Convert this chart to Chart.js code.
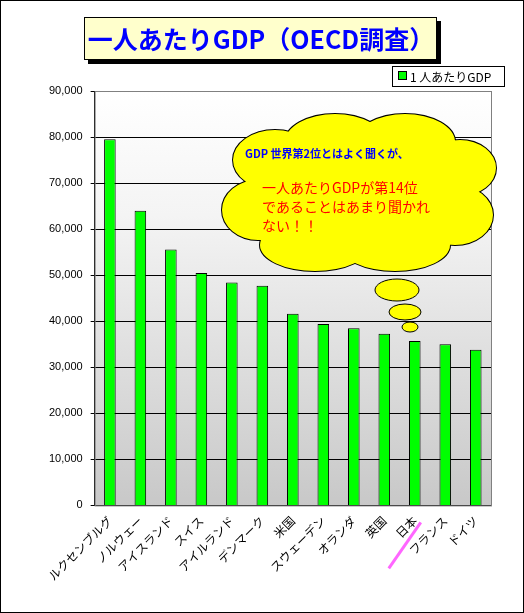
<!DOCTYPE html>
<html><head><meta charset="utf-8">
<script src="https://cdn.jsdelivr.net/npm/chart.js@4"></script>
<style>body{margin:0;background:#fff}canvas{display:block}</style>
</head><body>
<canvas id="c" width="524" height="613"></canvas>
<script>
const countries = ['ルクセンブルグ', 'ノルウェー', 'アイスランド', 'スイス', 'アイルランド', 'デンマーク', '米国', 'スウェーデン', 'オランダ', '英国', '日本', 'フランス', 'ドイツ'];
const gdpPerCapita = [79500, 64000, 55600, 50500, 48400, 47700, 41600, 39400, 38500, 37300, 35700, 35000, 33800];
const yTicks = [0, 10000, 20000, 30000, 40000, 50000, 60000, 70000, 80000, 90000];

const FONT = '"Noto Sans CJK JP", "DejaVu Sans", sans-serif';

const decor = {
    id: 'decor',
    beforeDraw(chart) {
        const { ctx, chartArea: a } = chart;
        ctx.save();
        ctx.fillStyle = '#fff';
        ctx.fillRect(0, 0, chart.width, chart.height);
        const g = ctx.createLinearGradient(0, a.top, 0, a.bottom);
        g.addColorStop(0, '#ffffff');
        g.addColorStop(0.3, '#f4f4f4');
        g.addColorStop(1, '#c8c8c8');
        ctx.fillStyle = g;
        ctx.fillRect(a.left, a.top, a.right - a.left, a.bottom - a.top);
        ctx.restore();
    },
    afterDraw(chart) {
        const { ctx, chartArea: a } = chart;
        ctx.save();
        // plot border
        ctx.strokeStyle = '#808080';
        ctx.lineWidth = 1;
        ctx.strokeRect(a.left + 0.5, a.top + 0.5, a.right - a.left, a.bottom - a.top);
        // outer frame
        ctx.strokeStyle = '#000';
        ctx.strokeRect(0.5, 0.5, chart.width - 1, chart.height - 1);

        // title box
        ctx.fillStyle = '#000';
        ctx.fillRect(88, 21, 353, 43);
        ctx.fillStyle = '#ffffcc';
        ctx.fillRect(84, 17, 353, 43);
        ctx.strokeRect(84.5, 17.5, 352, 42);
        ctx.fillStyle = '#0000ff';
        ctx.font = 'bold 25px ' + FONT;
        ctx.textAlign = 'center';
        ctx.textBaseline = 'middle';
        ctx.fillText('一人あたりGDP（OECD調査）', 261, 39);

        // legend
        ctx.fillStyle = '#fff';
        ctx.fillRect(392, 66, 113, 21);
        ctx.strokeRect(392.5, 66.5, 112, 20);
        ctx.fillStyle = '#00ff00';
        ctx.fillRect(398, 71, 9, 9);
        ctx.strokeRect(398.5, 71.5, 8, 8);
        ctx.fillStyle = '#000';
        ctx.font = '12px ' + FONT;
        ctx.textAlign = 'left';
        ctx.fillText('1 人あたりGDP', 410, 77);

        // thought cloud: stroke outlines, then fill over inner seams
        const puffs = [[275, 160, 42, 30], [335, 142, 50, 28], [405, 142, 50, 28], [460, 168, 36, 28],
                       [455, 215, 38, 30], [395, 245, 55, 26], [315, 245, 55, 26], [258, 210, 36, 30]];
        const drawPuffs = () => {
            ctx.beginPath();
            puffs.forEach(p => { ctx.moveTo(p[0] + p[2], p[1]); ctx.ellipse(p[0], p[1], p[2], p[3], 0, 0, Math.PI * 2); });
        };
        ctx.strokeStyle = '#000';
        ctx.lineWidth = 2;
        drawPuffs(); ctx.stroke();
        ctx.fillStyle = '#ffff00';
        drawPuffs(); ctx.fill();
        ctx.beginPath();
        ctx.ellipse(358, 195, 105, 58, 0, 0, Math.PI * 2);
        ctx.fill();
        ctx.lineWidth = 1;
        [[397, 290, 22, 11], [405, 312, 16, 8], [410, 327, 8, 5]].forEach(p => {
            ctx.beginPath();
            ctx.ellipse(p[0], p[1], p[2], p[3], 0, 0, Math.PI * 2);
            ctx.fill(); ctx.stroke();
        });
        ctx.fillStyle = '#0000ff';
        ctx.font = 'bold 11px ' + FONT;
        ctx.fillText('GDP 世界第2位とはよく聞くが、', 245, 154);
        ctx.fillStyle = '#ff0000';
        ctx.font = '14px ' + FONT;
        ctx.fillText('一人あたりGDPが第14位', 262, 188);
        ctx.fillText('であることはあまり聞かれ', 262, 207);
        ctx.fillText('ない！！', 262, 226);

        // strike over 日本
        const xj = chart.scales.x.getPixelForValue(countries.indexOf('日本'));
        ctx.strokeStyle = '#ff66ff';
        ctx.lineWidth = 3;
        ctx.beginPath();
        ctx.moveTo(xj - 26, a.bottom + 63);
        ctx.lineTo(xj + 6, a.bottom + 17);
        ctx.stroke();
        ctx.restore();
    }
};

new Chart(document.getElementById('c').getContext('2d'), {
    type: 'bar',
    data: {
        labels: countries,
        datasets: [{
            label: '1 人あたりGDP',
            data: gdpPerCapita,
            backgroundColor: '#00ff00',
            borderColor: '#000',
            borderWidth: 1,
            barPercentage: 0.38,
            categoryPercentage: 1,
        }],
    },
    options: {
        responsive: false,
        animation: false,
        layout: { padding: { top: 91, left: 41, right: 33, bottom: 30 } },
        plugins: { legend: { display: false }, tooltip: { enabled: false } },
        scales: {
            x: {
                grid: { display: false, drawTicks: true },
                border: { color: '#000' },
                ticks: { color: '#000', font: { family: FONT, size: 12 }, minRotation: 45, maxRotation: 45, padding: 0 },
            },
            y: {
                min: 0, max: 90000,
                afterBuildTicks: axis => { axis.ticks = yTicks.map(v => ({ value: v })); },
                grid: { color: '#000', drawTicks: true, tickLength: 4 },
                border: { color: '#000' },
                ticks: { color: '#000', font: { family: 'Arial, "Liberation Sans", sans-serif', size: 11 }, padding: 8,
                         callback: v => v.toLocaleString('en-US') },
            },
        },
    },
    plugins: [decor],
});
</script>
</body></html>
